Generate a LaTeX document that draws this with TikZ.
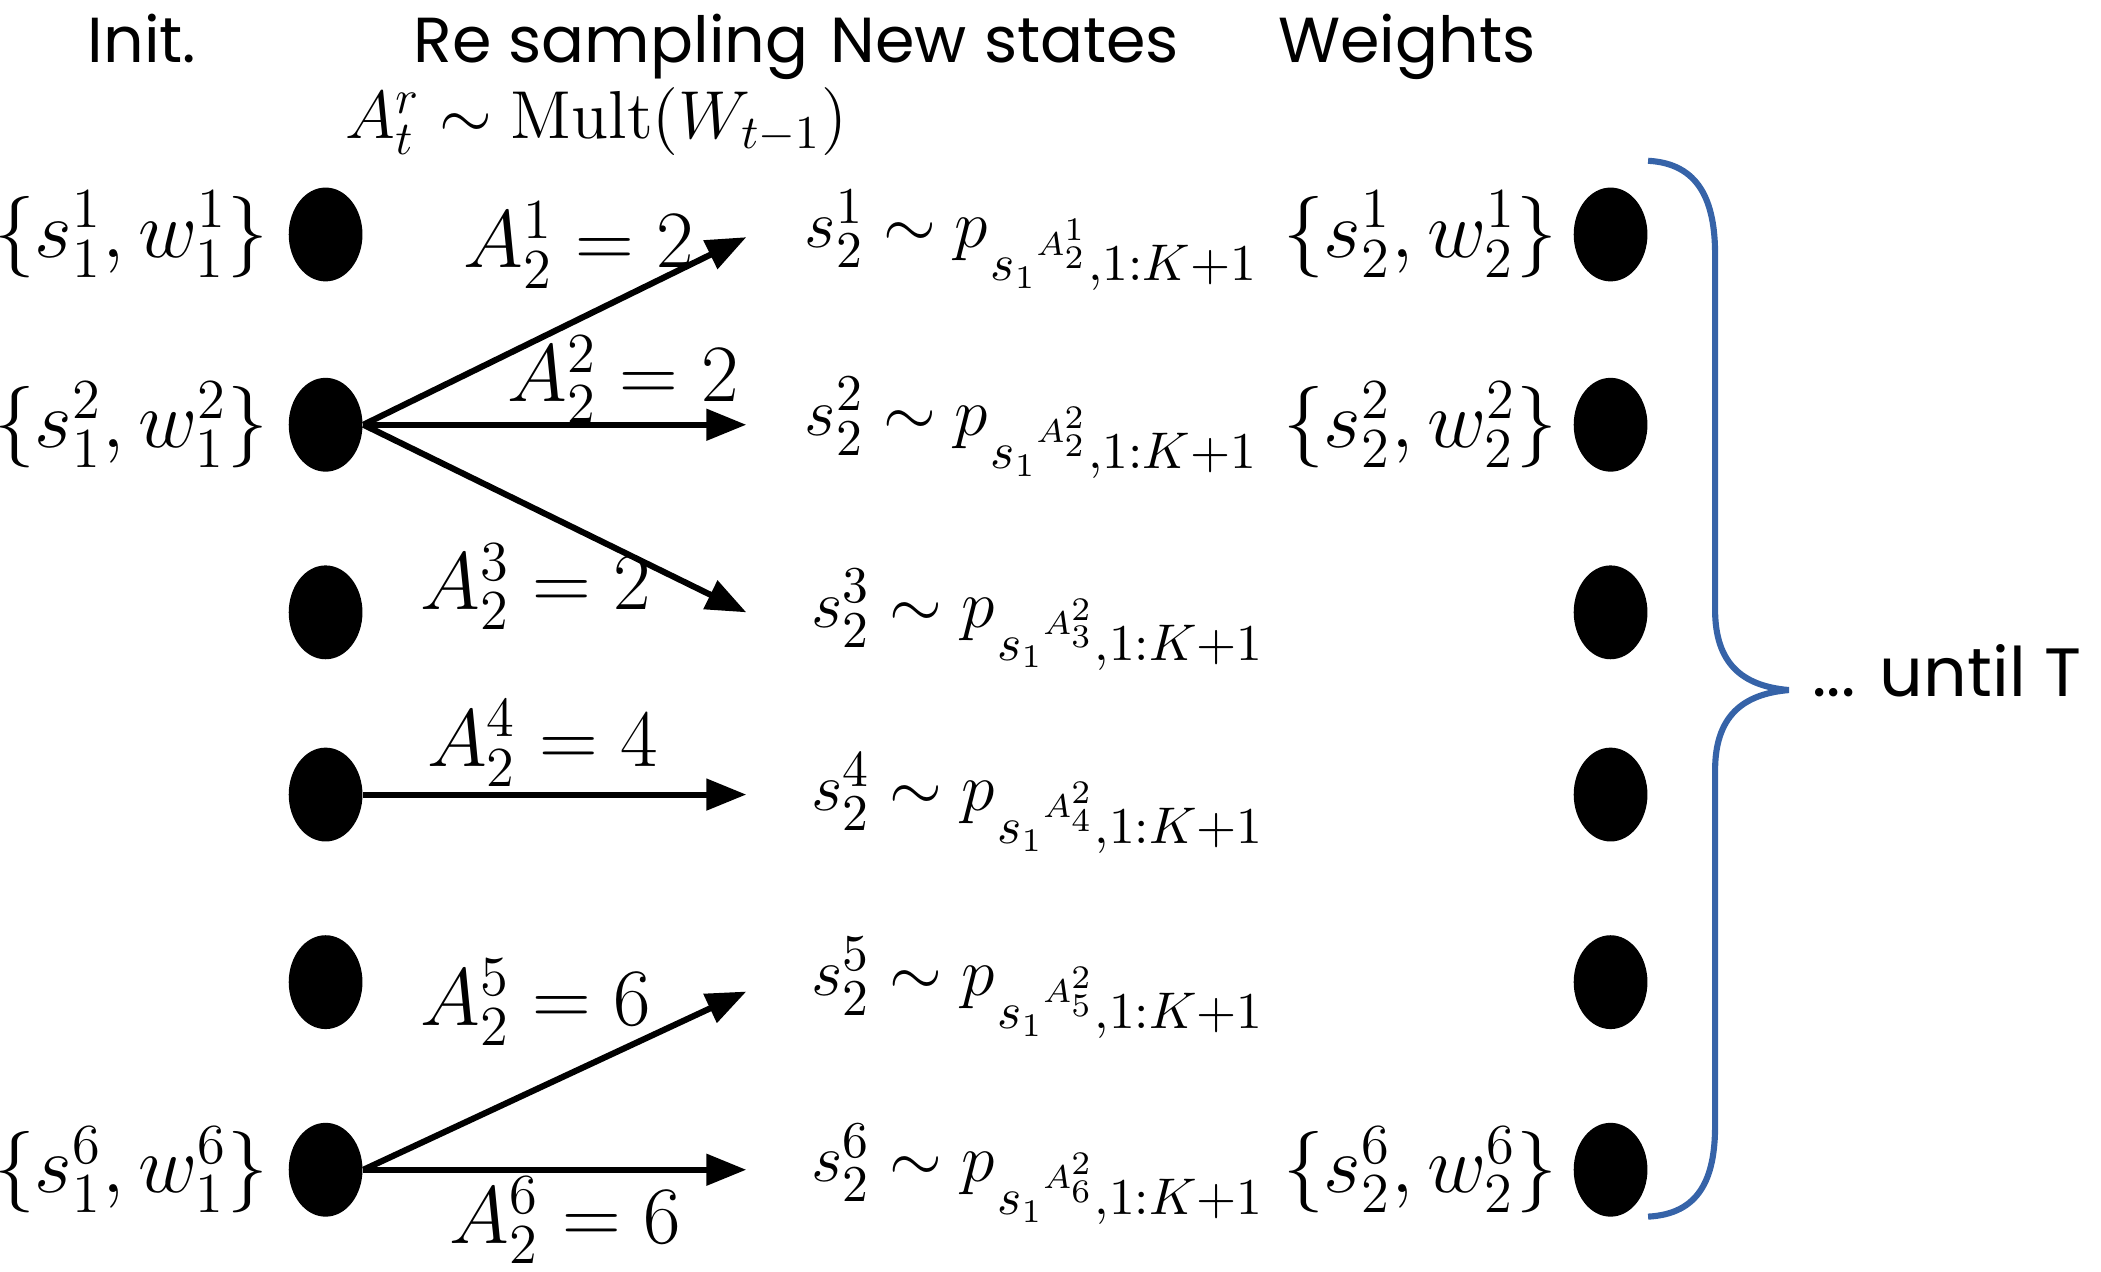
\documentclass[tikz,border=0pt]{standalone}
\usepackage{amsmath,amssymb}
\usepackage{fontspec}
\newfontfamily\hdrfont{Poppins}
\usepackage{tikz}
\usetikzlibrary{
  arrows.meta,
  shapes.geometric,
  positioning
}
\definecolor{xbrace}{RGB}{54,99,168}
% proposal with its subscript set low
\newcommand{\prop}[1]{p\kern0.6pt\lower 7pt\hbox{$\scriptstyle {s_1}^{\raisebox{1.5pt}{$\scriptscriptstyle #1$}},1:K+1$}}

\begin{document}
\begin{tikzpicture}[x=0.01cm, y=-0.01cm,
  dot/.style={ellipse, fill=black, draw=none, inner sep=0pt,
              minimum width=0.55cm, minimum height=0.70cm},
  hdr/.style={font=\hdrfont\fontsize{13.5}{16}\selectfont, anchor=base, inner sep=0pt},
  mth/.style={font=\fontsize{17.5}{20}\selectfont, inner sep=0pt},
  nst/.style={font=\fontsize{15}{18}\selectfont, inner sep=0pt, anchor=base west},
  arr/.style={-{Triangle[length=8.5pt, width=6.5pt]}, line width=1.3pt},
  brc/.style={draw=xbrace, line width=1.3pt}
]
  \useasboundingbox (0,0) rectangle (1568,949);

  % column headers
  \node[hdr] (init)   at (106,47)  {Init.};
  \node[hdr] (resamp) at (456,47)  {Re sampling};
  \node[hdr] (newst)  at (750,47)  {New states};
  \node[hdr] (wts)    at (1050,47) {Weights};
  \node[anchor=base, inner sep=0pt, font=\fontsize{14.4}{17}\selectfont] (mult) at (445,103)
    {$A_t^r \sim \mathrm{Mult}(W_{t-1})$};

  % particles
  \foreach \i/\y in {1/175,2/317,3/457,4/593,5/733,6/873} {
    \node[dot] (l\i) at (243,\y) {};
    \node[dot] (r\i) at (1202,\y) {};
  }

  \node[mth, left=0.14cm of l1] (il1) {$\{s_1^1, w_1^1\}$};
  \node[mth, left=0.14cm of l2] (il2) {$\{s_1^2, w_1^2\}$};
  \node[mth, left=0.14cm of l6] (il6) {$\{s_1^6, w_1^6\}$};

  \node[mth, left=0.11cm of r1] (wr1) {$\{s_2^1, w_2^1\}$};
  \node[mth, left=0.11cm of r2] (wr2) {$\{s_2^2, w_2^2\}$};
  \node[mth, left=0.11cm of r6] (wr6) {$\{s_2^6, w_2^6\}$};

  % new states
  \node[nst] (n1) at (600,185) {$s_2^1 \sim \prop{A_2^1}$};
  \node[nst] (n2) at (600,325) {$s_2^2 \sim \prop{A_2^2}$};
  \node[nst] (n3) at (605,468) {$s_2^3 \sim \prop{A_3^2}$};
  \node[nst] (n4) at (605,605) {$s_2^4 \sim \prop{A_4^2}$};
  \node[nst] (n5) at (605,743) {$s_2^5 \sim \prop{A_5^2}$};
  \node[nst] (n6) at (605,882) {$s_2^6 \sim \prop{A_6^2}$};

  % resampling arrows
  \coordinate (e1) at (557,177);
  \coordinate (e2) at (557,317);
  \coordinate (e3) at (557,457);
  \coordinate (e4) at (557,593);
  \coordinate (e5) at (557,740);
  \coordinate (e6) at (557,873);
  \foreach \s/\t in {l2/e1,l2/e2,l2/e3,l4/e4,l6/e5,l6/e6}
    \draw[arr] (\s.east) -- (\t);

  \node[mth, anchor=base] (a1) at (432,200) {$A_2^1 = 2$};
  \node[mth, anchor=base] (a2) at (465,300) {$A_2^2 = 2$};
  \node[mth, anchor=base] (a3) at (400,455) {$A_2^3 = 2$};
  \node[mth, anchor=base] (a4) at (405,572) {$A_2^4 = 4$};
  \node[mth, anchor=base] (a5) at (400,765) {$A_2^5 = 6$};
  \node[mth, anchor=base] (a6) at (422,928) {$A_2^6 = 6$};

  % brace
  \draw[brc] (1230,120) .. controls (1268,122) and (1280,150) .. (1280,190)
    -- (1280,455) .. controls (1280,495) and (1300,512) .. (1335,515)
    .. controls (1300,518) and (1280,535) .. (1280,575)
    -- (1280,840) .. controls (1280,880) and (1268,906) .. (1230,908);
  \node[hdr, anchor=base west, font=\hdrfont\fontsize{14.5}{17}\selectfont] (until) at (1352,520) {... until T};
\end{tikzpicture}
\end{document}
